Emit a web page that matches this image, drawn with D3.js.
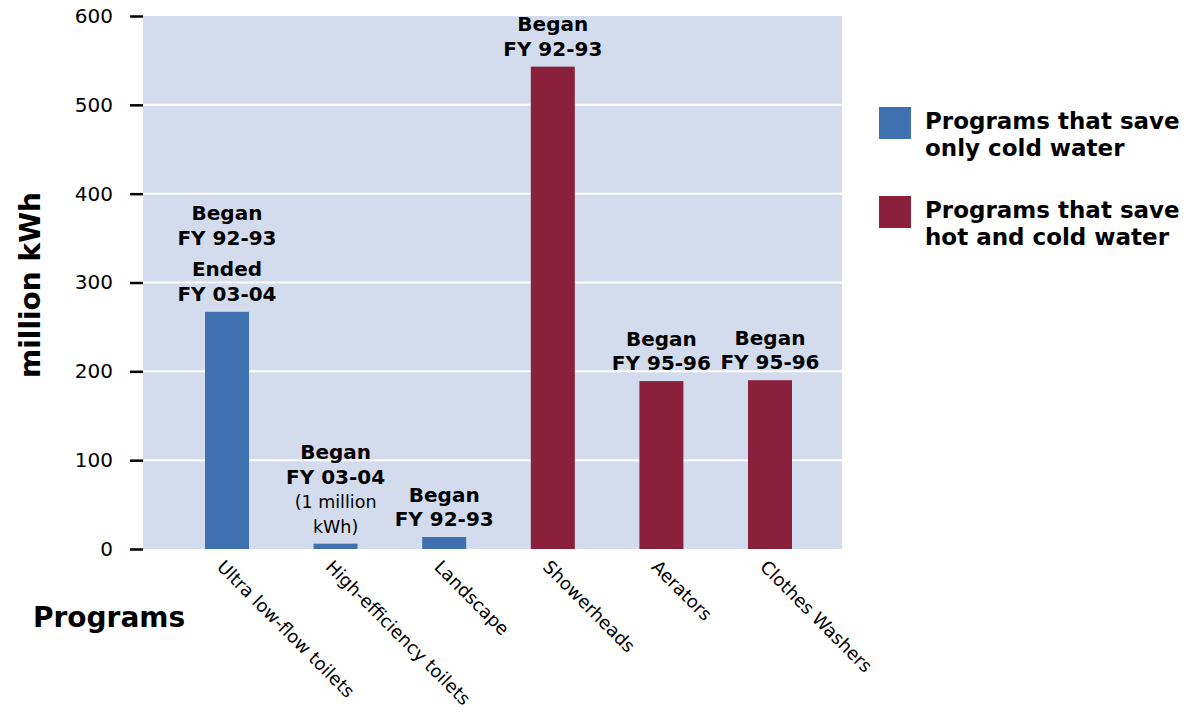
<!DOCTYPE html>
<html>
<head>
<meta charset="utf-8">
<script src="https://cdn.jsdelivr.net/npm/d3@7"></script>
<style>
  body { margin: 0; background: #fff; }
  text { font-family: "DejaVu Sans", sans-serif; fill: #000; }
</style>
</head>
<body>
<svg id="chart"></svg>
<script>
// data
var programs = ["Ultra low-flow toilets", "High-efficiency toilets", "Landscape", "Showerheads", "Aerators", "Clothes Washers"];
var savings = [267, 6, 13.5, 543, 189, 190];
var waterType = ["cold", "cold", "cold", "hot", "hot", "hot"];
var notes = [
  [["Began", 1], ["FY 92-93", 1], ["", 0], ["Ended", 1], ["FY 03-04", 1]],
  [["Began", 1], ["FY 03-04", 1], ["(1 million", 0], ["kWh)", 0]],
  [["Began", 1], ["FY 92-93", 1]],
  [["Began", 1], ["FY 92-93", 1]],
  [["Began", 1], ["FY 95-96", 1]],
  [["Began", 1], ["FY 95-96", 1]]
];
var yTicks = [0, 100, 200, 300, 400, 500, 600];
var legendKeys = ["cold", "hot"];
var legendLabels = [["Programs that save", "only cold water"], ["Programs that save", "hot and cold water"]];

var width = 1193, height = 713;
var plotL = 143, plotR = 842, plotT = 16, plotB = 549;

var svg = d3.select("#chart").attr("width", width).attr("height", height);

var y = d3.scaleLinear().domain([0, 600]).range([plotB, plotT]);
var x = d3.scaleBand()
  .domain(programs)
  .range([172.7, 824.3])
  .paddingInner(0.595)
  .paddingOuter(0.2975);

var color = d3.scaleOrdinal().domain(["cold", "hot"]).range(["#3f70b0", "#8b203d"]);

// plot background
svg.append("rect")
  .attr("x", plotL).attr("y", plotT)
  .attr("width", plotR - plotL).attr("height", plotB - plotT)
  .attr("fill", "#d3dcec");

// grid
svg.append("g").selectAll("line")
  .data(yTicks.filter(function(d){ return d > 0 && d < 600; }))
  .enter().append("line")
  .attr("x1", plotL).attr("x2", plotR)
  .attr("y1", function(d){ return y(d); })
  .attr("y2", function(d){ return y(d); })
  .attr("stroke", "#fff").attr("stroke-width", 2);

// y axis
var yAxis = d3.axisLeft(y).tickValues(yTicks).tickSize(13).tickPadding(17);
var ya = svg.append("g").attr("transform", "translate(" + plotL + ",0)").call(yAxis);
ya.select(".domain").remove();
ya.selectAll(".tick line").attr("stroke", "#000").attr("stroke-width", 2.5);
ya.selectAll(".tick text").attr("font-size", 20).attr("font-family", "DejaVu Sans").attr("fill", "#000");

// bars
svg.append("g").selectAll("rect")
  .data(programs)
  .enter().append("rect")
  .attr("x", function(d){ return x(d); })
  .attr("width", x.bandwidth())
  .attr("y", function(d, i){ return y(savings[i]); })
  .attr("height", function(d, i){ return plotB - y(savings[i]); })
  .attr("fill", function(d, i){ return color(waterType[i]); });

// notes above bars, stacked upward from bar top
programs.forEach(function(p, i) {
  var lines = notes[i];
  var base = y(savings[i]) - 11;
  var g = svg.append("g");
  for (var j = lines.length - 1; j >= 0; j--) {
    var ln = lines[j];
    if (ln[0] === "") { base -= 7; continue; }
    g.append("text")
      .attr("x", x(p) + x.bandwidth() / 2)
      .attr("y", base)
      .attr("text-anchor", "middle")
      .attr("font-size", ln[1] ? 20 : 17.5)
      .attr("font-weight", ln[1] ? "bold" : "normal")
      .text(ln[0]);
    base -= 24.5;
  }
});

// x labels, rotated
svg.append("g").selectAll("text")
  .data(programs)
  .enter().append("text")
  .attr("transform", function(d){
    return "translate(" + (x(d) + x.bandwidth() / 2 - 11) + ",568) rotate(45)";
  })
  .attr("font-size", 18)
  .text(function(d){ return d; });

// axis titles
svg.append("text")
  .attr("transform", "translate(40,285) rotate(-90)")
  .attr("text-anchor", "middle")
  .attr("font-size", 28).attr("font-weight", "bold")
  .text("million kWh");

svg.append("text")
  .attr("x", 33).attr("y", 627)
  .attr("font-size", 28).attr("font-weight", "bold")
  .text("Programs");

// legend
var lg = svg.append("g").selectAll("g")
  .data(legendKeys)
  .enter().append("g")
  .attr("transform", function(d, i){ return "translate(879," + (107 + i * 89) + ")"; });

lg.append("rect")
  .attr("width", 32).attr("height", 32)
  .attr("fill", function(d){ return color(d); });

lg.each(function(d, i) {
  var t = d3.select(this);
  legendLabels[i].forEach(function(s, j) {
    t.append("text")
      .attr("x", 46).attr("y", 22 + j * 27)
      .attr("font-size", 23).attr("font-weight", "bold")
      .text(s);
  });
});
</script>
</body>
</html>
